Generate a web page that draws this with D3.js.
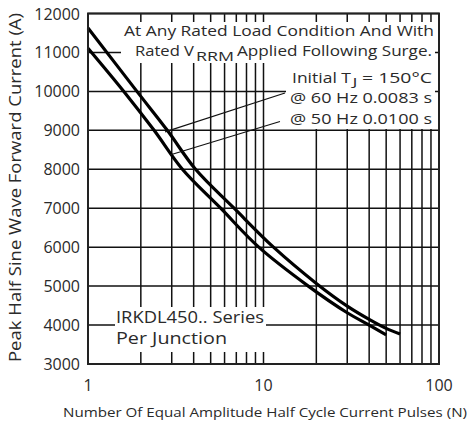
<!DOCTYPE html>
<html><head><meta charset="utf-8">
<script src="https://cdn.jsdelivr.net/npm/d3@7"></script>
<style>body{margin:0;background:#fff}svg{display:block}text{font-family:"Open Sans",sans-serif;fill:#2a2a2a}</style>
</head><body><svg id="c" width="469" height="430"></svg>
<script>
// ---- data ----
const yTickValues = [3000,4000,5000,6000,7000,8000,9000,10000,11000,12000];
const xTickValues = [1,10,100];
const xTickLabels = ["1","10","100"];
const xMinorGrid = [2,3,4,5,6,7,8,9,20,30,40,50,60,70,80,90];
// 60 Hz (0.0083 s) – upper curve
const pulses60 = [1, 1.9, 2.83, 4.1, 6.8, 11.4, 20, 30, 40, 50, 60];
const current60 = [11630, 10000, 9000, 8000, 7000, 6000, 5070, 4488, 4147, 3915, 3770];
// 50 Hz (0.0100 s) – lower curve
const pulses50 = [1, 1.6, 2.38, 3.45, 5.7, 9.4, 18, 30, 40, 50];
const current50 = [11110, 10000, 9000, 8000, 7000, 6000, 5000, 4316, 4000, 3750];
const yTitle = "Peak Half Sine Wave Forward Current (A)";
const xTitle = "Number Of Equal Amplitude Half Cycle Current Pulses (N)";

const svg = d3.select("#c");
const L=88, R=439, T=13.5, B=364;
const x = d3.scaleLog().domain([1,100]).range([L,R]);
const y = d3.scaleLinear().domain([3000,12000]).range([B,T]);

const g = svg.append("g");
// grid
g.selectAll(".vg").data(xMinorGrid.concat([10])).enter().append("line")
  .attr("x1",d=>x(d)).attr("x2",d=>x(d)).attr("y1",T).attr("y2",B)
  .attr("stroke","#111").attr("stroke-width",1.5);
g.selectAll(".hg").data(yTickValues).enter().append("line")
  .attr("x1",L).attr("x2",R).attr("y1",d=>y(d)).attr("y2",d=>y(d))
  .attr("stroke","#111").attr("stroke-width",1.5);

// curves
const line = d3.line().curve(d3.curveCatmullRom.alpha(0.5)).x(d=>x(d[0])).y(d=>y(d[1]));
const s60 = pulses60.map((p,i)=>[p,current60[i]]);
const s50 = pulses50.map((p,i)=>[p,current50[i]]);
[s60,s50].forEach(s=>g.append("path").attr("d",line(s)).attr("fill","none")
  .attr("stroke","#000").attr("stroke-width",3.2).attr("stroke-linejoin","round"));

// white label boxes
const boxes=[[121,22,435,63],[286,60,435,129],[115,307,266,352]];
boxes.forEach(b=>g.append("rect").attr("x",b[0]).attr("y",b[1]).attr("width",b[2]-b[0]).attr("height",b[3]-b[1]).attr("fill","#fff"));

function txt(s,x0,x1,yb,fs){
  const t=svg.append("text").attr("x",x0).attr("y",yb).attr("font-size",fs).text(s);
  if(x1!=null) t.attr("textLength",x1-x0).attr("lengthAdjust","spacingAndGlyphs");
  return t;
}
txt("At Any Rated Load Condition And With",124,434,35.5,15);
txt("Rated V",135,194,56,15);
txt("RRM",196,234,60.5,13);
txt("Applied Following Surge.",237,432,56,15);
txt("Initial T",292,351,82.5,15);
txt("J",352.5,357.5,85.5,11);
txt("= 150°C",362,432,82.5,15);
txt("@ 60 Hz 0.0083 s",290,432,103,15);
txt("@ 50 Hz 0.0100 s",290,432,123.5,15);
txt("IRKDL450.. Series",116,264,323,16);
txt("Per Junction",116,227,344,16);

// leader lines
const leaders=[[[2.75,8960],[13.26,9958]],[[2.93,8366],[12.41,9227]]];
leaders.forEach(l=>svg.append("line").attr("x1",x(l[0][0])).attr("y1",y(l[0][1]))
  .attr("x2",x(l[1][0])).attr("y2",y(l[1][1])).attr("stroke","#111").attr("stroke-width",1.2));

// frame
svg.append("rect").attr("x",L).attr("y",T).attr("width",R-L).attr("height",B-T)
  .attr("fill","none").attr("stroke","#222").attr("stroke-width",2);

// axes labels
svg.selectAll(".yt").data(yTickValues).enter().append("text")
  .attr("x",80).attr("y",d=>y(d)+6).attr("text-anchor","end").attr("font-size",16).text(d=>d);
svg.selectAll(".xt").data(xTickValues).enter().append("text")
  .attr("x",d=>x(d)).attr("y",391).attr("text-anchor","middle").attr("font-size",16)
  .text((d,i)=>xTickLabels[i]);
svg.append("text").attr("x",63).attr("y",417).attr("font-size",13)
  .attr("textLength",404).attr("lengthAdjust","spacingAndGlyphs").text(xTitle);
svg.append("text").attr("transform","translate(21,362) rotate(-90)").attr("font-size",16)
  .attr("textLength",349).attr("lengthAdjust","spacingAndGlyphs").text(yTitle);
</script></body></html>
